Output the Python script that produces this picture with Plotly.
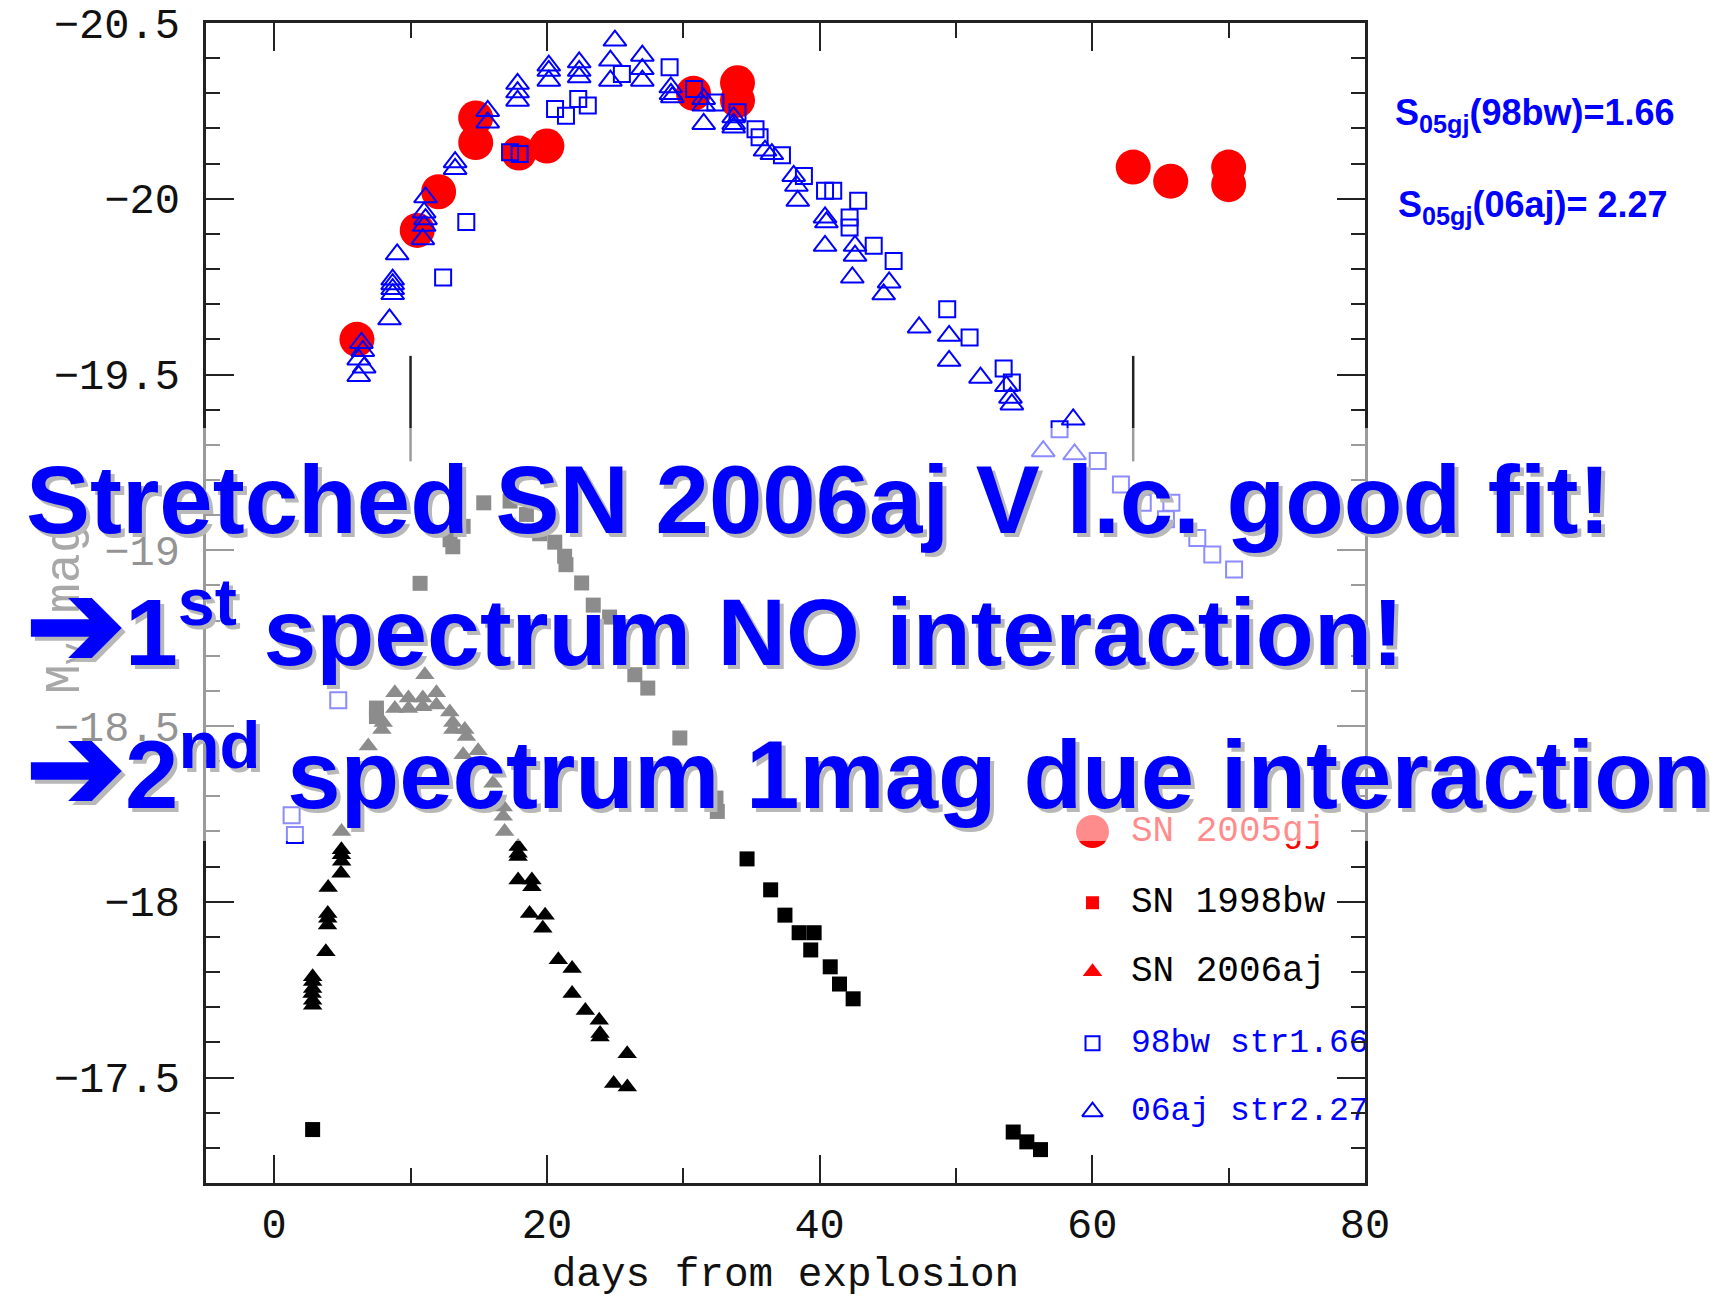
import plotly.graph_objects as go

# ---------------- data ----------------
# SN 2005gj (red filled circles)
gj_day = [6.07, 10.49, 12.06, 14.78, 14.78, 17.95, 20.0, 30.75, 33.98, 33.98, 63.0, 65.75, 70.0, 70.0]
gj_mag = [-19.60, -19.91, -20.02, -20.23, -20.16, -20.13, -20.15, -20.30, -20.33, -20.28, -20.09, -20.05, -20.09, -20.04]

# SN 1998bw stretched by 1.66 (blue open squares)
bw_str_day = [1.28, 1.52, 4.7, 12.39, 14.09, 17.3, 18.0, 20.6, 21.4, 22.3, 23.0, 25.5, 29.0, 30.8, 32.36,
              33.98, 35.3, 35.6, 37.24, 38.85, 40.4, 41.0, 42.83, 42.2, 42.2, 43.97, 45.43, 49.36, 51.0,
              53.5, 54.1, 57.6, 60.4, 62.1, 63.7, 65.8, 65.4, 67.7, 68.8, 70.4]
bw_str_mag = [-18.246, -18.19, -18.573, -19.776, -19.934, -20.132, -20.127, -20.255, -20.236, -20.284, -20.265,
              -20.355, -20.374, -20.312, -20.274, -20.246, -20.198, -20.175, -20.124, -20.065, -20.023, -20.023,
              -19.994, -19.947, -19.918, -19.866, -19.823, -19.686, -19.605, -19.517, -19.477, -19.344, -19.254,
              -19.187, -19.135, -19.135, -19.088, -19.035, -18.988, -18.945]

# SN 2006aj stretched by 2.27 (blue open triangles)
aj_str_day = [6.4, 6.5, 6.2, 6.6, 6.2, 8.46, 8.69, 8.69, 8.69, 8.69, 9.02, 11.1, 11.0, 11.1, 11.0, 10.9,
              13.27, 13.27, 15.66, 15.66, 17.85, 17.85, 17.85, 20.14, 20.14, 20.14, 22.37, 22.37, 22.37,
              24.99, 24.66, 24.66, 27.0, 27.0, 27.0, 29.09, 29.1, 29.2, 31.5, 31.5, 31.5, 33.7, 33.7, 33.7,
              36.0, 36.5, 38.1, 38.3, 38.4, 40.4, 40.5, 40.4, 42.6, 42.6, 42.4, 45.1, 44.7, 47.3, 49.5, 49.5,
              51.8, 53.7, 54.0, 54.1, 58.6, 56.4, 58.7]
aj_str_mag = [-19.59, -19.567, -19.543, -19.52, -19.496, -19.657, -19.77, -19.757, -19.743, -19.729, -19.842,
              -20.004, -19.961, -19.942, -19.923, -19.885, -20.104, -20.085, -20.25, -20.217, -20.327, -20.303,
              -20.279, -20.379, -20.364, -20.336, -20.388, -20.364, -20.346, -20.45, -20.393, -20.336, -20.407,
              -20.369, -20.336, -20.317, -20.298, -20.289, -20.284, -20.265, -20.213, -20.232, -20.213, -20.203,
              -20.137, -20.127, -20.065, -20.037, -19.994, -19.947, -19.933, -19.866, -19.866, -19.838, -19.776,
              -19.762, -19.728, -19.634, -19.61, -19.539, -19.491, -19.467, -19.434, -19.415, -19.372, -19.282,
              -19.273]

# SN 1998bw (black filled squares)
bw_day = [2.82, 7.5, 7.5, 10.7, 12.9, 13.1, 13.86, 15.37, 17.3, 18.5, 19.47, 20.58, 21.3, 21.4, 22.55, 23.4,
          24.6, 26.45, 27.4, 29.75, 32.4, 32.5, 34.68, 36.41, 37.46, 38.5, 39.6, 39.35, 40.78, 41.46, 42.46,
          54.2, 55.2, 56.2]
bw_mag = [-17.352, -18.551, -18.527, -18.906, -19.03, -19.01, -19.068, -19.135, -19.14, -19.102, -19.047,
          -19.023, -18.983, -18.959, -18.907, -18.844, -18.81, -18.646, -18.608, -18.466, -18.295, -18.257,
          -18.122, -18.034, -17.962, -17.912, -17.912, -17.863, -17.815, -17.766, -17.724, -17.345, -17.317,
          -17.295]

# SN 2006aj (black filled triangles)
aj_day = [2.82, 2.82, 2.78, 2.82, 2.82, 2.82, 3.79, 3.91, 3.93, 3.93, 3.96, 4.9, 4.95, 4.93, 4.93, 4.94,
          6.9, 7.9, 8.0, 8.85, 8.85, 9.85, 9.85, 10.9, 10.9, 11.05, 11.9, 11.9, 12.88, 13.1, 13.1, 13.86,
          13.98, 14.1, 14.96, 16.05, 16.8, 16.8, 16.9, 17.89, 17.89, 17.89, 17.89, 18.9, 18.9, 18.73, 19.87,
          19.7, 20.84, 21.85, 21.85, 22.82, 23.84, 23.9, 23.9, 25.89, 24.9, 25.9]
aj_mag = [-17.706, -17.72, -17.739, -17.753, -17.773, -17.787, -17.858, -17.934, -17.953, -17.967, -18.041,
          -18.081, -18.115, -18.134, -18.148, -18.2, -18.443, -18.49, -18.51, -18.55, -18.595, -18.55, -18.58,
          -18.555, -18.58, -18.646, -18.56, -18.595, -18.54, -18.51, -18.49, -18.418, -18.49, -18.47, -18.43,
          -18.337, -18.27, -18.243, -18.2, -18.157, -18.138, -18.129, -18.062, -18.062, -18.043, -17.967,
          -17.962, -17.925, -17.835, -17.81, -17.739, -17.691, -17.663, -17.625, -17.615, -17.568, -17.483,
          -17.473]

# spectrum epochs (days)
spectrum_days = [10.0, 63.0]

legend_labels = ["SN 2005gj", "SN 1998bw", "SN 2006aj", "98bw str1.66", "06aj str2.27"]
x_ticks = [0, 20, 40, 60, 80]

# ---------------- styles ----------------
MONO = "Liberation Mono"
SANS = "Liberation Sans"
RED = "#ff0000"
BLUE = "#0000ff"

fig = go.Figure()

fig.add_trace(go.Scatter(x=gj_day, y=gj_mag, mode="markers", name="SN 2005gj",
                         marker=dict(symbol="circle", size=35, color=RED, line=dict(width=0))))
fig.add_trace(go.Scatter(x=bw_day, y=bw_mag, mode="markers", name="SN 1998bw",
                         marker=dict(symbol="square", size=15, color="black", line=dict(width=0))))
fig.add_trace(go.Scatter(x=aj_day, y=aj_mag, mode="markers", name="SN 2006aj",
                         marker=dict(symbol="triangle-up", size=17, color="black", line=dict(width=0))))
fig.add_trace(go.Scatter(x=bw_str_day, y=bw_str_mag, mode="markers", name="98bw str1.66",
                         marker=dict(symbol="square-open", size=16, color=BLUE, line=dict(width=2, color=BLUE))))
fig.add_trace(go.Scatter(x=aj_str_day, y=aj_str_mag, mode="markers", name="06aj str2.27",
                         marker=dict(symbol="triangle-up-open", size=20, color=BLUE, line=dict(width=2, color=BLUE))))

# legend drawn in an overlay (paper-like) subplot
leg_x_sym = 0.7649
leg_x_txt = 0.798
leg_y = [0.303, 0.2416, 0.1822, 0.1204, 0.0615]
leg_sym = ["circle", "square", "triangle-up", "square-open", "triangle-up-open"]
leg_size = [33, 13, 17, 14, 18]
leg_col = [RED, RED, RED, BLUE, BLUE]
leg_txtcol = [RED, "black", "black", BLUE, BLUE]
leg_fs = [36, 36, 36, 33, 33]
for i, lab in enumerate(legend_labels):
    fig.add_trace(go.Scatter(x=[leg_x_sym], y=[leg_y[i]], mode="markers", xaxis="x2", yaxis="y2",
                             showlegend=False, hoverinfo="skip", cliponaxis=False,
                             marker=dict(symbol=leg_sym[i], size=leg_size[i], color=leg_col[i],
                                         line=dict(width=2 if "open" in leg_sym[i] else 0, color=leg_col[i]))))
    fig.add_trace(go.Scatter(x=[leg_x_txt], y=[leg_y[i]], mode="text", text=[lab], xaxis="x2", yaxis="y2",
                             textposition="middle right", showlegend=False, hoverinfo="skip", cliponaxis=False,
                             textfont=dict(family=MONO, size=leg_fs[i], color=leg_txtcol[i])))

axis_common = dict(showline=True, linewidth=2.5, linecolor="#222", mirror="allticks",
                   ticks="inside", ticklen=28, tickwidth=2, tickcolor="#222",
                   showgrid=False, zeroline=False, automargin=False,
                   tickfont=dict(family=MONO, size=42, color="#111"))

fig.update_layout(
    width=1720, height=1299,
    margin=dict(l=206, r=355, t=23, b=116, autoexpand=False),
    paper_bgcolor="white", plot_bgcolor="white",
    showlegend=False,
    xaxis=dict(range=[-5, 80], tickvals=x_ticks, ticklabelstandoff=2,
               minor=dict(ticks="inside", dtick=10, tick0=0, ticklen=15, tickwidth=2, tickcolor="#222"),
               title=dict(text="days from explosion", font=dict(family=MONO, size=41, color="#111"), standoff=8),
               **axis_common),
    yaxis=dict(range=[-17.2, -20.5], dtick=0.5, tick0=-20.5, ticklabelstandoff=15,
               minor=dict(ticks="inside", dtick=0.1, ticklen=14, tickwidth=2, tickcolor="#222"),
               **axis_common),
    xaxis2=dict(overlaying="x", anchor="y2", range=[0, 1], visible=False),
    yaxis2=dict(overlaying="y", anchor="x2", range=[0, 1], visible=False),
)

shapes = []
for d in spectrum_days:
    shapes.append(dict(type="line", xref="x", yref="y", x0=d, x1=d, y0=-19.553, y1=-19.253,
                       line=dict(color="#222", width=2.5), layer="above"))
# translucent white band covering the middle of the plot
shapes.append(dict(type="rect", xref="paper", yref="paper", x0=-0.2, x1=1.32, y0=0.2948, y1=0.6509,
                   fillcolor="white", opacity=0.55, line=dict(width=0), layer="above"))
fig.update_layout(shapes=shapes)

ann = []
# faded y-axis title
ann.append(dict(text="M<sub>V</sub> mag", x=-0.148, y=0.495, xref="paper", yref="paper",
                textangle=-90, showarrow=False, font=dict(family=MONO, size=50, color="#a8a8a8")))
# stretch factor labels
ann.append(dict(text="S<sub>05gj</sub>(98bw)=1.66", x=1.024, y=0.8988, xref="paper", yref="paper",
                xanchor="left", yanchor="bottom", showarrow=False,
                font=dict(family=SANS, size=36, color=BLUE, weight="bold")))
ann.append(dict(text="S<sub>05gj</sub>(06aj)= 2.27", x=1.027, y=0.8196, xref="paper", yref="paper",
                xanchor="left", yanchor="bottom", showarrow=False,
                font=dict(family=SANS, size=36, color=BLUE, weight="bold")))
# big overlay text with drop shadow
ARROW = '<span style="font-size:118px">\u2794</span>'
big_lines = ["Stretched SN 2006aj V l.c. good fit!",
             ARROW + "1<sup>st</sup> spectrum NO interaction!",
             ARROW + "2<sup>nd</sup> spectrum 1mag due interaction"]
big_y = [0.5414, 0.4233, 0.3000]
big_size = [96, 95, 96]
for txt, yy, fs in zip(big_lines, big_y, big_size):
    for col, dx, dy in [("#b8b8b8", 4, -4), (BLUE, 0, 0)]:
        ann.append(dict(text=txt, x=-0.157, y=yy, xref="paper", yref="paper",
                        xanchor="left", yanchor="bottom", showarrow=False, xshift=dx, yshift=dy,
                        font=dict(family=SANS, size=fs, color=col, weight="bold")))
fig.update_layout(annotations=ann)

fig.write_html("out.html")
